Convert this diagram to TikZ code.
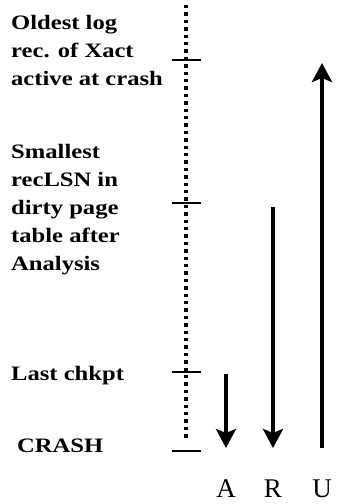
\documentclass[tikz,border=0pt]{standalone}
\usepackage{fontspec}
\setmainfont{Liberation Serif}
\newfontfamily\lblfont[FakeStretch=1.2]{Liberation Serif Bold}
\usetikzlibrary{arrows.meta}
\begin{document}
\begin{tikzpicture}[x=1pt,y=-1pt,
  lbl/.style={font=\fontsize{20.5}{28}\selectfont\lblfont, align=left, inner sep=0pt, anchor=base west},
  tickmark/.style={line width=2.8pt},
  logline/.style={line width=3.6pt, dash pattern=on 3.4pt off 4pt},
  phase/.style={line width=4pt, -{Stealth[length=19pt,width=20pt,inset=4pt]}},
  phname/.style={font=\fontsize{27}{27}\selectfont, inner sep=0pt, anchor=base}]
\useasboundingbox (0,0) rectangle (337,504);
% log line
\coordinate (top) at (186,5);
\coordinate (bot) at (186,440);
\draw[logline] (top) -- (bot);
% tick marks
\coordinate (t1l) at (172,60);  \coordinate (t1r) at (201,60);
\coordinate (t2l) at (172,203); \coordinate (t2r) at (201,203);
\coordinate (t3l) at (172,372); \coordinate (t3r) at (201,372);
\coordinate (t4l) at (172,451); \coordinate (t4r) at (201,451);
\draw[tickmark] (t1l) -- (t1r);
\draw[tickmark] (t2l) -- (t2r);
\draw[tickmark] (t3l) -- (t3r);
\draw[tickmark] (t4l) -- (t4r);
% labels (base anchor = baseline of last line)
\node[lbl] (oldest) at (11,85) {Oldest log\\rec. of Xact\\active at crash};
\node[lbl] (small) at (11,270) {Smallest\\recLSN in\\dirty page\\table after\\Analysis};
\node[lbl] (chk) at (11,380) {Last chkpt};
\node[lbl] (crash) at (17,452) {CRASH};
% phases
\coordinate (as) at (226,374); \coordinate (ae) at (226,448);
\coordinate (rs) at (273,207); \coordinate (re) at (273,448);
\coordinate (us) at (322,448); \coordinate (ue) at (322,63);
\draw[phase] (as) -- (ae);
\draw[phase] (rs) -- (re);
\draw[phase] (us) -- (ue);
\node[phname] (A) at (226,497) {A};
\node[phname] (R) at (273,497) {R};
\node[phname] (U) at (322,497) {U};
\end{tikzpicture}
\end{document}
